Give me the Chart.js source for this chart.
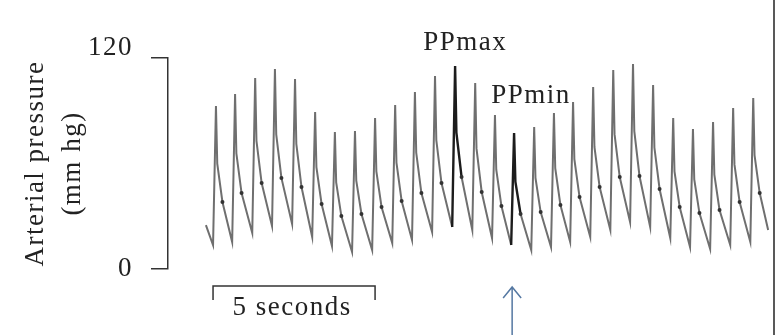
<!DOCTYPE html>
<html>
<head>
<meta charset="utf-8">
<script src="https://cdn.jsdelivr.net/npm/chart.js@4.4.1/dist/chart.umd.min.js"></script>
<style>
  html, body { margin: 0; padding: 0; background: #fff; }
  #wrap { width: 779px; height: 335px; }
</style>
</head>
<body>
<div id="wrap"><canvas id="chart" width="779" height="335"></canvas></div>
<script>
// arterial pressure trace: time in s, pressure in mm Hg
const peakTimes = [1.48, 2.07, 2.69, 3.30, 3.92, 4.54, 5.15, 5.77, 6.39, 7.01,
    7.62, 8.24, 8.86, 9.48, 10.09, 10.68, 11.30, 11.91, 12.50, 13.12,
    13.74, 14.35, 14.97, 15.59, 16.20, 16.82, 17.44, 18.06];
const footValues = [13.6, 15.4, 20.5, 24.5, 25.6, 18.2, 13.1, 9.7, 10.8, 14.8,
    16.5, 21.0, 23.9, 22.2, 17.6, 13.6, 10.8, 12.5, 15.4, 18.2,
    22.2, 26.7, 23.9, 17.6, 12.5, 11.4, 13.6, 15.4];
const peakValues = [92.7, 99.5, 108.6, 113.7, 108.1, 89.3, 77.9, 78.5, 85.9, 93.3,
    100.7, 109.8, 115.4, 105.8, 87.6, 77.3, 80.8, 88.7, 95.0, 103.5,
    113.2, 116.6, 104.6, 85.9, 79.6, 83.6, 91.6, 97.2];
const shoulderValues = [59.9, 65.7, 72.8, 76.6, 71.2, 57.9, 49.2, 50.2, 55.5, 60.5,
    66.2, 73.3, 77.5, 68.6, 56.5, 49.7, 51.8, 57.3, 62.5, 69.4,
    76.7, 78.4, 69.1, 55.5, 50.9, 53.6, 59.5, 64.8];
const notchValues = [38.1, 43.2, 48.9, 51.8, 46.6, 37.0, 30.1, 31.3, 35.3, 38.7,
    43.2, 48.9, 52.3, 43.8, 35.8, 31.3, 32.4, 36.4, 40.9, 46.6,
    52.3, 52.9, 45.5, 35.3, 31.8, 33.6, 38.1, 43.2];
const traceStart = [1.17, 25.0];
const traceEnd = [18.52, 22.2];

// where foot, shoulder and dicrotic notch sit relative to each peak (s)
const footOffset = -0.09;
const shoulderOffset = 0.04;
const notchOffset = 0.2;

const yTicks = [0, 120];
const darkBeats = [12, 15];   // PPmax and PPmin beats
const labels = [
    { text: 'PPmax', t: 9.17, v: 124.5 },
    { text: 'PPmin', t: 11.2, v: 94.4 }
];
const scaleBar = { start: 1.39, length: 5, label: '5 seconds' };
const arrowTime = 10.62;

const serif = "'Liberation Serif', 'Times New Roman', serif";
Chart.defaults.font.family = serif;

let points = [{ x: traceStart[0], y: traceStart[1] }];
peakTimes.forEach((t, i) => {
    points.push({ x: t + footOffset, y: footValues[i] });
    points.push({ x: t, y: peakValues[i] });
    points.push({ x: t + shoulderOffset, y: shoulderValues[i] });
    points.push({ x: t + notchOffset, y: notchValues[i] });
});
points.push({ x: traceEnd[0], y: traceEnd[1] });

// a beat is dark from its foot up to its notch
function isDark(index) {
    if (index < 1 || (index - 1) % 4 === 3) return false;
    return darkBeats.includes(Math.floor((index - 1) / 4));
}

const extras = {
    id: 'extras',
    beforeDraw(chart) {
        chart.ctx.letterSpacing = '1.5px';
    },
    afterDraw(chart) {
        const ctx = chart.ctx;
        const xs = chart.scales.x, ys = chart.scales.y;
        const area = chart.chartArea;
        ctx.save();
        ctx.letterSpacing = '1.5px';
        ctx.fillStyle = '#222';
        ctx.font = "27px " + serif;
        ctx.textAlign = 'center';
        ctx.textBaseline = 'alphabetic';
        labels.forEach(l => {
            ctx.fillText(l.text, xs.getPixelForValue(l.t), ys.getPixelForValue(l.v));
        });

        // 5 second scale bar
        const x0 = xs.getPixelForValue(scaleBar.start);
        const x1 = xs.getPixelForValue(scaleBar.start + scaleBar.length);
        const by = area.bottom + 17;
        ctx.strokeStyle = '#333';
        ctx.lineWidth = 1.5;
        ctx.beginPath();
        ctx.moveTo(x0, by + 14);
        ctx.lineTo(x0, by);
        ctx.lineTo(x1, by);
        ctx.lineTo(x1, by + 14);
        ctx.stroke();
        ctx.fillText(scaleBar.label, (x0 + x1) / 2 - 2, area.bottom + 46);

        // arrow under PPmin beat
        const ax = xs.getPixelForValue(arrowTime);
        const ay = area.bottom + 18;
        ctx.strokeStyle = '#5578a2';
        ctx.lineWidth = 1.5;
        ctx.beginPath();
        ctx.moveTo(ax, chart.height);
        ctx.lineTo(ax, ay);
        ctx.moveTo(ax - 9, ay + 11);
        ctx.lineTo(ax, ay);
        ctx.lineTo(ax + 9, ay + 11);
        ctx.stroke();

        // right frame line
        ctx.strokeStyle = '#222';
        ctx.lineWidth = 1.5;
        ctx.beginPath();
        ctx.moveTo(area.right + 1, 0);
        ctx.lineTo(area.right + 1, chart.height);
        ctx.stroke();
        ctx.restore();
    }
};

const ctx = document.getElementById('chart').getContext('2d');
const myChart = new Chart(ctx, {
    type: 'line',
    data: {
        datasets: [{
            data: points,
            borderColor: '#6f6f6f',
            borderWidth: 2,
            tension: 0,
            clip: false,
            pointRadius: c => (c.dataIndex >= 1 && (c.dataIndex - 1) % 4 === 3) ? 2 : 0,
            pointBackgroundColor: '#333',
            pointBorderWidth: 0,
            segment: {
                borderColor: c => isDark(c.p0DataIndex) ? '#1c1c1c' : '#6f6f6f',
                borderWidth: c => isDark(c.p0DataIndex) ? 2.4 : 2
            }
        }]
    },
    options: {
        responsive: false,
        animation: false,
        events: [],
        layout: { padding: { top: 58, bottom: 66, right: 6, left: 0 } },
        plugins: {
            legend: { display: false },
            tooltip: { enabled: false }
        },
        scales: {
            x: { type: 'linear', display: false, min: 0, max: 18.67 },
            y: {
                min: 0,
                max: 120,
                afterFit: s => { s.width = 168; },
                afterBuildTicks: s => { s.ticks = yTicks.map(v => ({ value: v })); },
                border: { display: true, color: '#333', width: 1.5 },
                grid: {
                    display: true,
                    drawOnChartArea: false,
                    drawTicks: true,
                    tickLength: 17,
                    color: '#333',
                    lineWidth: 1.5
                },
                ticks: {
                    padding: 18,
                    color: '#222',
                    font: { size: 27, lineHeight: '20px' },
                    callback: v => v === 120 ? ['120', ''] : String(v)
                },
                title: {
                    display: true,
                    text: ['Arterial pressure', '(mm hg)'],
                    color: '#222',
                    font: { size: 27, lineHeight: 1.37 },
                    padding: { top: 17.5, bottom: 0 }
                }
            }
        }
    },
    plugins: [extras]
});
</script>
</body>
</html>
